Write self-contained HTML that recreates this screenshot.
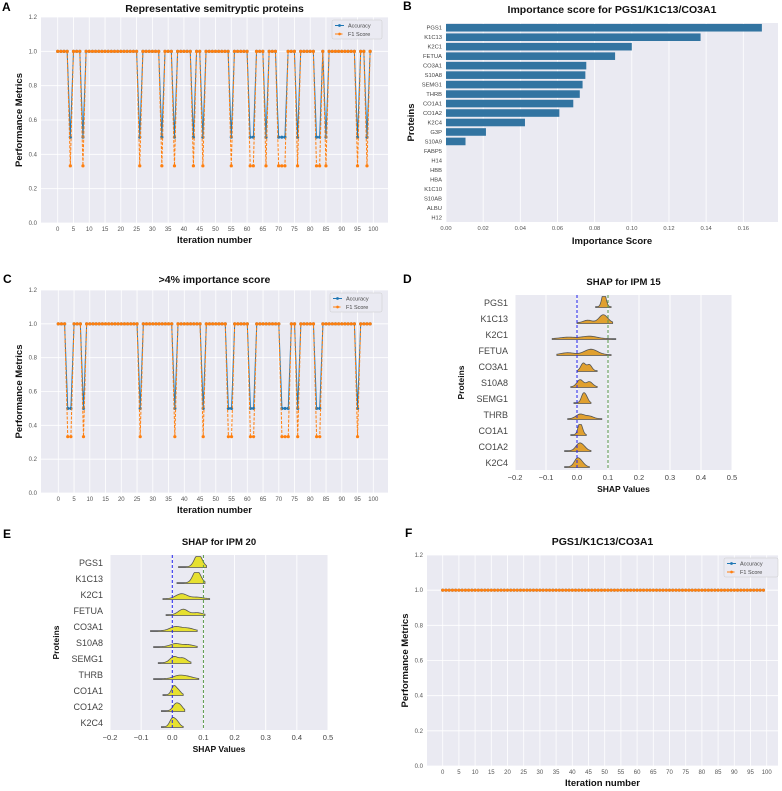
<!DOCTYPE html>
<html><head><meta charset="utf-8"><style>
body{margin:0;background:#fff;}
svg text{font-family:"Liberation Sans",sans-serif;}
</style></head><body>
<svg id="fig" width="782" height="786" viewBox="0 0 782 786" xmlns="http://www.w3.org/2000/svg"></svg>
<script>
// ---- Panel A data ----
const aIter = Array.from({length:100},(_,i)=>i);
const aAcc = [1,1,1,1,.5,1,1,1,.5,1, 1,1,1,1,1,1,1,1,1,1, 1,1,1,1,1,1,.5,1,1,1, 1,1,1,.5,1,1,1,.5,1,1, 1,1,1,.5,1,1,.5,1,1,1, 1,1,1,1,1,.5,1,1,1,1, 1,.5,.5,1,1,1,.5,1,1,1, .5,.5,.5,1,1,1,.5,1,1,1, 1,1,.5,.5,1,.5,1,1,1,1, 1,1,1,1,1,.5,1,1,.5,1];
const aF1 = [1,1,1,1,.333,1,1,1,.333,1, 1,1,1,1,1,1,1,1,1,1, 1,1,1,1,1,1,.333,1,1,1, 1,1,1,.333,1,1,1,.333,1,1, 1,1,1,.333,1,1,.333,1,1,1, 1,1,1,1,1,.333,1,1,1,1, 1,.333,.333,1,1,1,.333,1,1,1, .333,.333,.333,1,1,1,.333,1,1,1, 1,1,.333,.333,1,.333,1,1,1,1, 1,1,1,1,1,.333,1,1,.333,1];
// ---- Panel C data ----
const cAcc = [1,1,1,.5,.5,1,1,1,.5,1, 1,1,1,1,1,1,1,1,1,1, 1,1,1,1,1,1,.5,1,1,1, 1,1,1,1,1,1,1,.5,1,1, 1,1,1,1,1,1,.5,1,1,1, 1,1,1,1,.5,.5,1,1,1,1, 1,.5,.5,1,1,1,1,1,1,1, 1,.5,.5,.5,1,1,.5,1,1,1, 1,1,.5,.5,1,1,1,1,1,1, 1,1,1,1,1,.5,1,1,1,1];
const cF1 = [1,1,1,.333,.333,1,1,1,.333,1, 1,1,1,1,1,1,1,1,1,1, 1,1,1,1,1,1,.333,1,1,1, 1,1,1,1,1,1,1,.333,1,1, 1,1,1,1,1,1,.333,1,1,1, 1,1,1,1,.333,.333,1,1,1,1, 1,.333,.333,1,1,1,1,1,1,1, 1,.333,.333,.333,1,1,.333,1,1,1, 1,1,.333,.333,1,1,1,1,1,1, 1,1,1,1,1,.333,1,1,1,1];
// ---- Panel F data ----
const fAcc = [1,1,1,1,1,1,1,1,1,1, 1,1,1,1,1,1,1,1,1,1, 1,1,1,1,1,1,1,1,1,1, 1,1,1,1,1,1,1,1,1,1, 1,1,1,1,1,1,1,1,1,1, 1,1,1,1,1,1,1,1,1,1, 1,1,1,1,1,1,1,1,1,1, 1,1,1,1,1,1,1,1,1,1, 1,1,1,1,1,1,1,1,1,1, 1,1,1,1,1,1,1,1,1,1];
const fF1 = [1,1,1,1,1,1,1,1,1,1, 1,1,1,1,1,1,1,1,1,1, 1,1,1,1,1,1,1,1,1,1, 1,1,1,1,1,1,1,1,1,1, 1,1,1,1,1,1,1,1,1,1, 1,1,1,1,1,1,1,1,1,1, 1,1,1,1,1,1,1,1,1,1, 1,1,1,1,1,1,1,1,1,1, 1,1,1,1,1,1,1,1,1,1, 1,1,1,1,1,1,1,1,1,1];
const perfYTicks = [0,0.2,0.4,0.6,0.8,1.0,1.2];
const iterXTicks = [0,5,10,15,20,25,30,35,40,45,50,55,60,65,70,75,80,85,90,95,100];
// ---- Panel B data ----
const bProteins = ["PGS1","K1C13","K2C1","FETUA","CO3A1","S10A8","SEMG1","THRB","CO1A1","CO1A2","K2C4","G3P","S10A9","FABP5","H14","HBB","HBA","K1C10","S10AB","ALBU","H12"];
const bScores = [0.170,0.137,0.100,0.091,0.0755,0.075,0.0735,0.072,0.0685,0.061,0.0425,0.0215,0.0105,0,0,0,0,0,0,0,0];
const bXTicks = [0,0.02,0.04,0.06,0.08,0.10,0.12,0.14,0.16];
// ---- SHAP data ----
const shapProteins = ["PGS1","K1C13","K2C1","FETUA","CO3A1","S10A8","SEMG1","THRB","CO1A1","CO1A2","K2C4"];
const shapXTicks = [-0.2,-0.1,0.0,0.1,0.2,0.3,0.4,0.5];
const dLo = [0.06,0.0,-0.08,-0.065,0.0,-0.02,-0.01,-0.03,-0.02,-0.04,-0.04];
const dHi = [0.11,0.115,0.125,0.11,0.065,0.065,0.045,0.08,0.03,0.045,0.04];
const dPeak1 = [0.085,0.085,0.04,0.045,0.02,0.01,0.02,0.01,0.008,0.005,0.0];
const dH1 = [1.0,0.8,0.25,0.55,0.75,0.7,0.8,0.45,0.9,0.6,0.75];
const dPeak2 = [0.09,0.035,-0.03,-0.03,0.04,0.04,0.03,0.04,0.015,0.02,0.015];
const dH2 = [0.6,0.25,0.15,0.2,0.6,0.5,0.5,0.25,0.5,0.4,0.4];
const eLo = [0.02,0.015,-0.03,-0.02,-0.07,-0.06,-0.045,-0.06,-0.03,-0.035,-0.035];
const eHi = [0.11,0.105,0.12,0.105,0.08,0.08,0.06,0.085,0.035,0.04,0.035];
const ePeak1 = [0.08,0.075,0.03,0.035,0.01,0.01,0.005,0.02,0.005,0.01,0.0];
const eH1 = [0.9,0.9,0.5,0.55,0.4,0.3,0.6,0.3,0.85,0.6,0.8];
const ePeak2 = [0.09,0.085,0.08,0.08,0.05,0.05,0.035,0.05,0.02,0.025,0.015];
const eH2 = [0.5,0.5,0.15,0.2,0.25,0.2,0.45,0.2,0.4,0.5,0.5];

const NS='http://www.w3.org/2000/svg';
const svg=document.getElementById('fig');
function mk(tag,attrs,parent,txt){const e=document.createElementNS(NS,tag);for(const k in attrs)e.setAttribute(k,attrs[k]);if(txt!==undefined)e.textContent=txt;(parent||svg).appendChild(e);return e;}
function grp(name){const g=mk('g',{});return g;}
function txt(g,x,y,s,opt,name){const t=mk('text',Object.assign({x:x,y:y},opt),g,s);return t;}
const BG='#eaeaf2';

function lineChart(name,box,acc,f1,title,titleY,legend){
  const g=grp(name);
  const sx=v=>box.x0+(v-0)/100*(box.x1-box.x0);
  const sy=v=>box.yb-(v/1.2)*(box.yb-box.yt);
  const bg=mk('rect',{x:box.l,y:box.yt,width:box.r-box.l,height:box.yb-box.yt,fill:BG},g);
  
  perfYTicks.forEach(v=>{mk('line',{x1:box.l,x2:box.r,y1:sy(v),y2:sy(v),stroke:'#fff','stroke-width':0.8},g);
    txt(g,box.l-4,sy(v)+2,v.toFixed(1),{'font-size':6,fill:'#555','text-anchor':'end'},'y-tick-label');});
  iterXTicks.forEach(v=>{mk('line',{x1:sx(v),x2:sx(v),y1:box.yt,y2:box.yb,stroke:'#fff','stroke-width':0.8},g);
    txt(g,sx(v),box.yb+8,String(v),{'font-size':6,fill:'#555','text-anchor':'middle'},'x-tick-label');});
  let p1='',p2='';
  acc.forEach((v,i)=>{p1+=(i?'L':'M')+sx(aIter[i]).toFixed(2)+' '+sy(v).toFixed(2);});
  f1.forEach((v,i)=>{p2+=(i?'L':'M')+sx(aIter[i]).toFixed(2)+' '+sy(v).toFixed(2);});
  const l1=mk('path',{d:p1,fill:'none',stroke:'#1f77b4','stroke-width':1},g);
  
  acc.forEach((v,i)=>{const c=mk('circle',{cx:sx(aIter[i]),cy:sy(v),r:1.6,fill:'#1f77b4'},g);
    });
  const l2=mk('path',{d:p2,fill:'none',stroke:'#ff7f0e','stroke-width':1,'stroke-dasharray':'3,1.5'},g);
  
  f1.forEach((v,i)=>{const c=mk('circle',{cx:sx(aIter[i]),cy:sy(v),r:1.6,fill:'#ff7f0e'},g);
    });
  txt(g,(box.l+box.r)/2,titleY,title,{'font-size':10.5,'font-weight':'bold','text-anchor':'middle',fill:'#111'},'chart-title');
  txt(g,(box.l+box.r)/2,box.yb+20,'Iteration number',{'font-size':9.5,'font-weight':'bold','text-anchor':'middle',fill:'#111'},'x-axis-title');
  txt(g,0,0,'Performance Metrics',{'font-size':9.5,'font-weight':'bold','text-anchor':'middle',fill:'#111',transform:`translate(${box.l-19},${(box.yt+box.yb)/2}) rotate(-90)`},'y-axis-title');
  const lg=grp('legend');g.appendChild(lg);
  mk('rect',{x:legend.x,y:legend.y,width:legend.w,height:19,fill:'#eaeaf2',stroke:'#ccc','stroke-width':0.5,rx:1.5},lg);
  mk('line',{x1:legend.x+3,x2:legend.x+12,y1:legend.y+5.5,y2:legend.y+5.5,stroke:'#1f77b4','stroke-width':1},lg);
  mk('circle',{cx:legend.x+7.5,cy:legend.y+5.5,r:1.4,fill:'#1f77b4'},lg);
  txt(lg,legend.x+16,legend.y+7.5,'Accuracy',{'font-size':5.5,fill:'#444'},'legend-entry-accuracy');
  mk('line',{x1:legend.x+3,x2:legend.x+12,y1:legend.y+14,y2:legend.y+14,stroke:'#ff7f0e','stroke-width':1,'stroke-dasharray':'3,1.5'},lg);
  mk('circle',{cx:legend.x+7.5,cy:legend.y+14,r:1.4,fill:'#ff7f0e'},lg);
  txt(lg,legend.x+16,legend.y+16,'F1 Score',{'font-size':5.5,fill:'#444'},'legend-entry-f1');
}
lineChart('panel-a-chart',{l:41,r:388,x0:57.7,x1:373.3,yt:17,yb:223},aAcc,aF1,'Representative semitryptic proteins',12,{x:332,y:20,w:50});
lineChart('panel-c-chart',{l:41,r:388,x0:58.3,x1:373.3,yt:290,yb:493},cAcc,cF1,'>4% importance score',283,{x:330,y:293,w:52});
lineChart('panel-f-chart',{l:427,r:778,x0:442.7,x1:766.7,yt:555,yb:766},fAcc,fF1,'PGS1/K1C13/CO3A1',545,{x:724,y:558,w:54});

// Panel B
(function(){
  const g=grp('panel-b-chart');
  const l=446,r=778,t=23,b=222;
  const sx=v=>l+v/0.16*(743.3-l);
  const bg=mk('rect',{x:l,y:t,width:r-l,height:b-t,fill:BG},g);
  
  bXTicks.forEach(v=>{mk('line',{x1:sx(v),x2:sx(v),y1:t,y2:b,stroke:'#fff','stroke-width':0.8},g);
    txt(g,sx(v),b+8,v.toFixed(2),{'font-size':5.8,fill:'#555','text-anchor':'middle'},'x-tick-label');});
  const rh=(b-t)/bProteins.length;
  bProteins.forEach((p,i)=>{const cy=t+rh*(i+0.5);
    const rc=mk('rect',{x:l,y:cy-rh*0.4,width:sx(bScores[i])-l,height:rh*0.8,fill:'#3274a1'},g);
    
    txt(g,l-4,cy+2,p,{'font-size':5.8,fill:'#444','text-anchor':'end'},'y-tick-label');});
  txt(g,(l+r)/2,13,'Importance score for PGS1/K1C13/CO3A1',{'font-size':10.5,'font-weight':'bold','text-anchor':'middle',fill:'#111'},'chart-title');
  txt(g,(l+r)/2,244,'Importance Score',{'font-size':9.5,'font-weight':'bold','text-anchor':'middle',fill:'#111'},'x-axis-title');
  txt(g,0,0,'Proteins',{'font-size':9.5,'font-weight':'bold','text-anchor':'middle',fill:'#111',transform:`translate(414,${(t+b)/2}) rotate(-90)`},'y-axis-title');
})();

// SHAP ridge panels
function shapChart(name,box,lo,hi,p1,h1,p2,h2,fill,title){
  const g=grp(name);
  const sx=v=>box.l+(v+0.2)/0.7*(box.r-box.l);
  const bg=mk('rect',{x:box.l,y:box.t,width:box.r-box.l,height:box.b-box.t,fill:BG},g);
  
  shapXTicks.forEach(v=>{mk('line',{x1:sx(v),x2:sx(v),y1:box.t,y2:box.b,stroke:'#fff','stroke-width':0.9},g);
    txt(g,sx(v),box.b+10,(v<0?'\u2212':'')+Math.abs(v).toFixed(1),{'font-size':7.5,fill:'#444','text-anchor':'middle'},'x-tick-label');});
  const y0=box.r0,dy=box.dy;
  shapProteins.forEach((p,i)=>{
    const base=y0+dy*i+4.5;
    let d='M'+sx(lo[i]).toFixed(2)+' '+base;
    const n=40,wid=(hi[i]-lo[i]);
    for(let k=0;k<=n;k++){const v=lo[i]+wid*k/n;
      const s=Math.max(wid*0.12,0.006);
      const hgt=h1[i]*Math.exp(-((v-p1[i])**2)/(2*s*s))+h2[i]*Math.exp(-((v-p2[i])**2)/(2*s*s))+0.08;
      d+='L'+sx(v).toFixed(2)+' '+(base-Math.min(hgt,1.1)*10).toFixed(2);}
    d+='L'+sx(hi[i]).toFixed(2)+' '+base+'Z';
    const pa=mk('path',{d:d,fill:fill,stroke:'#555','stroke-width':0.8},g);
    
    txt(g,box.l-7,y0+dy*i+3,p,{'font-size':9,fill:'#444','text-anchor':'end'},'y-tick-label');
  });
  const zl=mk('line',{x1:sx(0),x2:sx(0),y1:box.t,y2:box.b,stroke:'#2222ee','stroke-width':1,'stroke-dasharray':'3,2'},g);
  
  const tl=mk('line',{x1:sx(0.1),x2:sx(0.1),y1:box.t,y2:box.b,stroke:'#5a9a4a','stroke-width':1,'stroke-dasharray':'3,2'},g);
  
  txt(g,(box.l+box.r)/2,box.t-10,title,{'font-size':9.5,'font-weight':'bold','text-anchor':'middle',fill:'#111'},'chart-title');
  txt(g,(box.l+box.r)/2,box.b+22,'SHAP Values',{'font-size':8.5,'font-weight':'bold','text-anchor':'middle',fill:'#111'},'x-axis-title');
  txt(g,0,0,'Proteins',{'font-size':8.5,'font-weight':'bold','text-anchor':'middle',fill:'#111',transform:`translate(${box.l-51},${(box.t+box.b)/2}) rotate(-90)`},'y-axis-title');
}
shapChart('panel-d-chart',{l:515,r:732,t:295,b:470,r0:303,dy:16},dLo,dHi,dPeak1,dH1,dPeak2,dH2,'#e0a030','SHAP for IPM 15');
shapChart('panel-e-chart',{l:110,r:328,t:555,b:730,r0:563,dy:16},eLo,eHi,ePeak1,eH1,ePeak2,eH2,'#e6e030','SHAP for IPM 20');

// panel letters
[['A',2,11],['B',403,10],['C',3,283],['D',403,283],['E',3,538],['F',405,537]].forEach(a=>{
  txt(svg,a[1],a[2],a[0],{'font-size':12,'font-weight':'bold',fill:'#000'},'panel-label-'+a[0].toLowerCase());});
</script>
</body></html>
